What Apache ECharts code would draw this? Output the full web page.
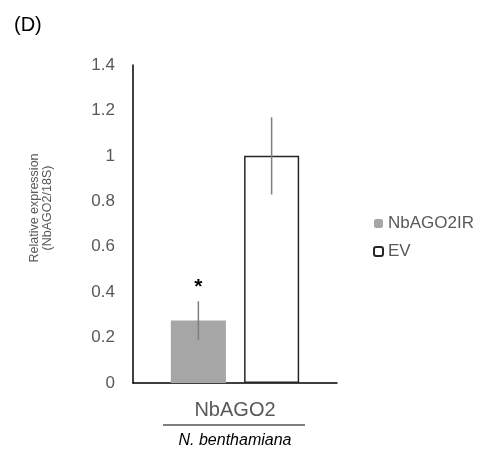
<!DOCTYPE html>
<html>
<head>
<meta charset="utf-8">
<script src="https://cdn.jsdelivr.net/npm/echarts@6/dist/echarts.min.js"></script>
<style>
  html, body { margin: 0; padding: 0; background: #fff; }
  #chart { width: 486px; height: 451px; }
</style>
</head>
<body>
<div id="chart"></div>
<script>
var categories = ["NbAGO2"];
var seriesNames = ["NbAGO2IR", "EV"];
var means = [0.275, 1.0];
var errors = [0.085, 0.17];
var yTicks = [0, 0.2, 0.4, 0.6, 0.8, 1, 1.2, 1.4];

var chart = echarts.init(document.getElementById("chart"));

var barPct = 0.27;   // bar width as share of the category band
var gapPct = 0.33;   // gap between the two bars, relative to bar width
var FONT = '"Liberation Sans", Arial, sans-serif';

function errorItem(idx){
    return function(params, api){
        var center = api.coord([api.value(0), api.value(1)]);
        var band = api.size([1, 0])[0];
        var bw = band * barPct;
        var shift = (bw + bw * gapPct) / 2;
        var x = center[0] + (idx == 0 ? -shift : shift);
        var top = api.coord([api.value(0), api.value(1) + api.value(2)])[1];
        var bot = api.coord([api.value(0), api.value(1) - api.value(2)])[1];
        var children = [{
            type: 'line',
            shape: {x1: x, y1: top, x2: x, y2: bot},
            style: {stroke: '#7f7f7f', lineWidth: 1.5}
        }];
        if(idx == 0){
            children.push({
                type: 'text',
                style: {
                    text: '*', x: x, y: top - 4,
                    align: 'center', verticalAlign: 'bottom',
                    font: 'bold 21px ' + FONT,
                    fill: '#000'
                }
            });
        }
        return {type: 'group', children: children};
    };
}

var option = {
    animation: false,
    textStyle: {fontFamily: FONT},
    grid: {left: 133, right: 149, top: 65, bottom: 68},
    legend: {
        orient: 'vertical',
        left: 368,
        top: 210,
        itemWidth: 9,
        itemHeight: 9,
        itemGap: 11,
        data: seriesNames,
        textStyle: {color: '#595959', fontSize: 17}
    },
    xAxis: {
        type: 'category',
        data: categories,
        axisLine: {lineStyle: {color: '#000', width: 1.5}},
        axisTick: {show: false},
        axisLabel: {color: '#595959', fontSize: 20, margin: 17}
    },
    yAxis: {
        type: 'value',
        min: 0,
        max: 1.4,
        interval: 0.2,
        splitLine: {show: false},
        axisLine: {show: true, lineStyle: {color: '#000', width: 1.5}},
        axisTick: {show: false},
        axisLabel: {
            color: '#595959', fontSize: 17, margin: 18,
            formatter: function(v){
                var t = yTicks.filter(function(k){ return Math.abs(k - v) < 1e-6; });
                return t.length ? String(t[0]) : '';
            }
        }
    },
    series: [
        {
            name: seriesNames[0],
            type: 'bar',
            data: [means[0]],
            barWidth: (barPct * 100) + '%',
            barGap: (gapPct * 100) + '%',
            itemStyle: {color: '#a6a6a6'}
        },
        {
            name: seriesNames[1],
            type: 'bar',
            data: [means[1]],
            barWidth: (barPct * 100) + '%',
            itemStyle: {color: '#fff', borderColor: '#262626', borderWidth: 1.5}
        },
        {
            type: 'custom',
            renderItem: errorItem(0),
            data: [[0, means[0], errors[0]]],
            z: 10
        },
        {
            type: 'custom',
            renderItem: errorItem(1),
            data: [[0, means[1], errors[1]]],
            z: 10
        }
    ],
    graphic: [
        {
            type: 'text', left: 14, top: 15,
            style: {text: '(D)', fill: '#000', font: '20px ' + FONT}
        },
        {
            type: 'text', x: 41, y: 208, rotation: Math.PI / 2,
            style: {
                text: 'Relative expression\n(NbAGO2/18S)', fill: '#595959',
                align: 'center', verticalAlign: 'middle',
                font: '12.5px ' + FONT, lineHeight: 13
            }
        },
        {
            type: 'line',
            shape: {x1: 163, y1: 425, x2: 305, y2: 425},
            style: {stroke: '#000', lineWidth: 1.2}
        },
        {
            type: 'text', x: 235, y: 441,
            style: {
                text: 'N. benthamiana', fill: '#000',
                align: 'center', verticalAlign: 'middle',
                font: 'italic 16px ' + FONT
            }
        }
    ]
};
chart.setOption(option);
</script>
</body>
</html>
